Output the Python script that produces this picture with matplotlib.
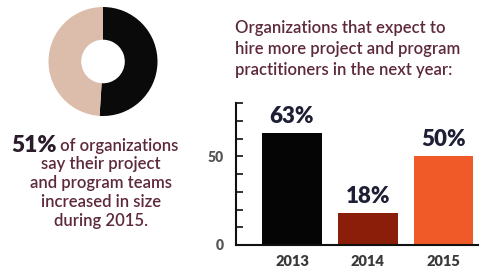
import matplotlib
matplotlib.use("Agg")
import matplotlib.pyplot as plt

# Data
donut_labels = ["Increased", "Other"]
donut_values = [51, 49]
donut_colors = ["#0a0a0a", "#dcbcab"]

years = ["2013", "2014", "2015"]
hire_pct = [63, 18, 50]
bar_colors = ["#050505", "#8a1e08", "#f05a28"]
yticks_major = [0, 50]
yticks_minor = [10, 20, 30, 40, 60, 70, 80]

title_lines = ["Organizations that expect to",
               "hire more project and program",
               "practitioners in the next year:"]
donut_big = "51%"
donut_line1 = " of organizations"
donut_rest = ["say their project", "and program teams", "increased in size", "during 2015."]

W, H = 484, 269
fig = plt.figure(figsize=(W / 100, H / 100), dpi=100)
FONT = "Lato"
txt_col = "#5e2a3a"
dark = "#1e1f35"

def fx(x):
    return x / W

def fy(y):
    return 1 - y / H

# Donut
cx, cy, r = 103, 61.5, 54.5
axd = fig.add_axes([fx(cx - r), fy(cy + r), 2 * r / W, 2 * r / H])
axd.pie(donut_values, colors=donut_colors, startangle=90, counterclock=False,
        radius=1.0, wedgeprops=dict(width=0.6, linewidth=0))
axd.set_xlim(-1, 1)
axd.set_ylim(-1, 1)
axd.set_aspect("auto")
axd.axis("off")

# Donut caption
t1 = fig.text(fx(11), fy(145), donut_big, fontsize=16.5, fontweight="heavy",
              color="#2a1c2a", family=FONT, va="center", ha="left")
fig.canvas.draw()
bb = t1.get_window_extent()
fig.text(bb.x1 / W, fy(146), donut_line1, fontsize=12, fontweight="semibold",
         color=txt_col, family=FONT, va="center", ha="left")
for i, line in enumerate(donut_rest):
    fig.text(fx(101), fy(164 + i * 19), line, fontsize=12, fontweight="semibold",
             color=txt_col, family=FONT, va="center", ha="center")

# Title
for i, line in enumerate(title_lines):
    fig.text(fx(235), fy(28 + i * 21), line, fontsize=12, fontweight="semibold",
             color=txt_col, family=FONT, va="center", ha="left")

# Bar chart
left, right, top, base = 236, 478, 103, 245
axb = fig.add_axes([fx(left), fy(base), (right - left) / W, (base - top) / H])
x = list(range(len(years)))
axb.bar(x, hire_pct, width=0.79, color=bar_colors, edgecolor="none")
axb.set_xlim(-0.739, 2.455)
axb.set_ylim(0, 80)
axb.set_xticks(x)
axb.set_xticklabels(years, fontsize=10.5, fontweight="heavy", color="#3a3a3a", family=FONT)
axb.set_yticks(yticks_major)
axb.set_yticklabels([str(v) for v in yticks_major], fontsize=10, fontweight="heavy",
                    color="#555555", family=FONT)
axb.set_yticks(yticks_minor, minor=True)
axb.tick_params(axis="y", which="both", direction="in", length=5, width=1.2,
                color="#111111", pad=9)
axb.tick_params(axis="x", length=0, pad=7)
for s in ["top", "right"]:
    axb.spines[s].set_visible(False)
for s in ["left", "bottom"]:
    axb.spines[s].set_linewidth(1.5)
    axb.spines[s].set_color("#111111")
axb.patch.set_alpha(0)
for xi, v in zip(x, hire_pct):
    axb.text(xi, v + 3.5, f"{v}%", ha="center", va="bottom", fontsize=16,
             fontweight="heavy", color=dark, family=FONT)

fig.savefig("out.png", dpi=100, facecolor="white")
